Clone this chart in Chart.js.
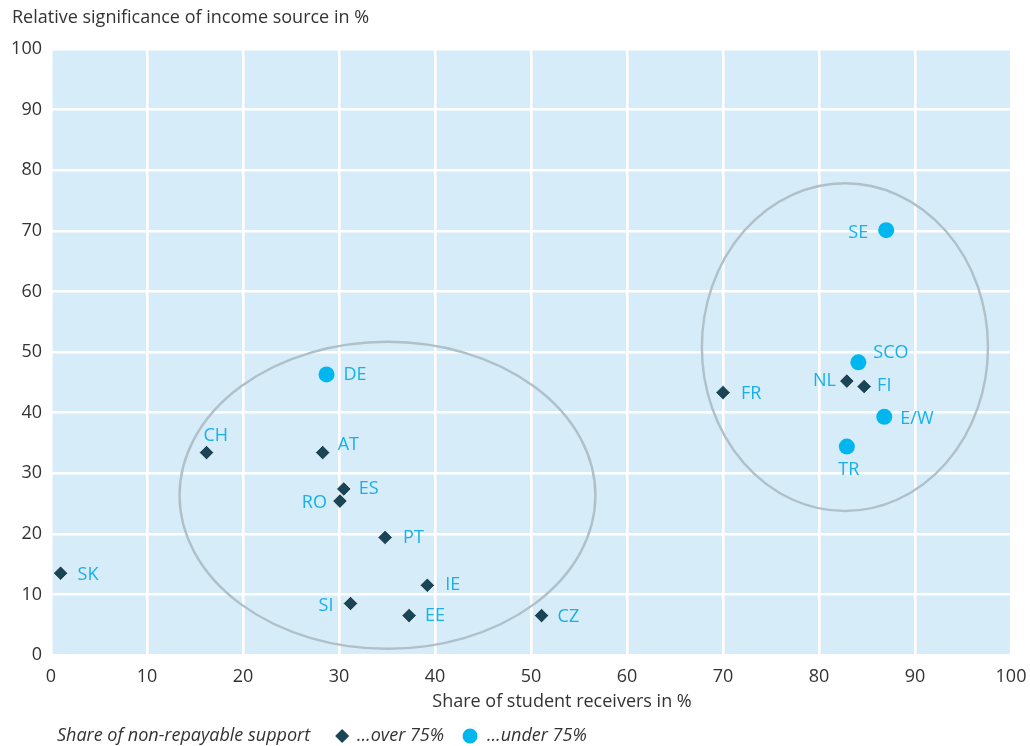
<!DOCTYPE html>
<html>
<head>
<meta charset="utf-8">
<script src="https://cdn.jsdelivr.net/npm/chart.js@4.4.1/dist/chart.umd.min.js"></script>
<style>
html,body{margin:0;padding:0;background:#ffffff;}
#wrap{width:1030px;height:746px;position:relative;}
canvas{display:block;}
</style>
</head>
<body>
<div id="wrap"><canvas id="c" width="1030" height="746" style="width:1030px;height:746px"></canvas></div>
<script>
// ---- data ----
const overCountries = ['SK','CH','AT','ES','RO','PT','IE','SI','EE','CZ','FR','NL','FI'];
const overX = [1.0, 16.2, 28.3, 30.5, 30.1, 34.8, 39.2, 31.2, 37.3, 51.1, 70.0, 82.9, 84.7];
const overY = [13.5, 33.4, 33.4, 27.4, 25.4, 19.4, 11.5, 8.5, 6.5, 6.5, 43.3, 45.2, 44.3];

const underCountries = ['DE','SE','SCO','E/W','TR'];
const underX = [28.7, 87.0, 84.1, 86.8, 82.9];
const underY = [46.3, 70.1, 48.3, 39.3, 34.4];

const xTickValues = [0,10,20,30,40,50,60,70,80,90,100];
const yTickValues = [0,10,20,30,40,50,60,70,80,90,100];

// cluster ellipses (data units)
const clusterCenterX = [35.05, 82.7];
const clusterCenterY = [26.35, 50.8];
const clusterRadiusX = [21.66, 14.9];
const clusterRadiusY = [25.33, 27.04];

const yAxisTitle = 'Relative significance of income source in %';
const xAxisTitle = 'Share of student receivers in %';
const legendTitle = 'Share of non-repayable support';
const seriesNames = ['\u2026over 75%', '\u2026under 75%'];

// ---- styles ----
const FONT = '"Open Sans", Roboto, "Liberation Sans", sans-serif';
const FS = 18;
const TEXT = '#333333';
const LABEL_COLOR = '#17b0e8';
const DIAMOND = '#1a4557';
const CIRCLE = '#00b6ee';
const PLOT_BG = '#d6ecf9';
const ELLIPSE = '#afc0c9';

// label placement relative to its marker: [dx, dy, textAlign]
const labelPlacement = {
  'SK':[17,2,'left'], 'CH':[-3,-17,'left'], 'AT':[15,-8,'left'], 'ES':[15,0,'left'],
  'RO':[-13,2,'right'], 'PT':[18,0,'left'], 'IE':[18,0,'left'], 'SI':[-17,2,'right'],
  'EE':[16,0,'left'], 'CZ':[16,1,'left'], 'FR':[18,1,'left'], 'NL':[-11,0,'right'],
  'FI':[13,-1,'left'], 'DE':[17,0,'left'], 'SE':[-18,3,'right'], 'SCO':[15,-9,'left'],
  'E/W':[16,2,'left'], 'TR':[2,23,'center']
};

const plotBackground = {
  id:'plotBackground',
  beforeDraw(chart){
    const {ctx, chartArea:a} = chart;
    ctx.save();
    ctx.fillStyle = PLOT_BG;
    ctx.fillRect(a.left, a.top, a.right - a.left, a.bottom - a.top);
    ctx.restore();
  }
};

const clusters = {
  id:'clusters',
  beforeDatasetsDraw(chart){
    const {ctx} = chart;
    const xs = chart.scales.x, ys = chart.scales.y;
    ctx.save();
    ctx.strokeStyle = ELLIPSE;
    ctx.lineWidth = 2.4;
    for (let i = 0; i < clusterCenterX.length; i++){
      const cx = xs.getPixelForValue(clusterCenterX[i]);
      const cy = ys.getPixelForValue(clusterCenterY[i]);
      const rx = Math.abs(xs.getPixelForValue(clusterCenterX[i] + clusterRadiusX[i]) - cx);
      const ry = Math.abs(ys.getPixelForValue(clusterCenterY[i] + clusterRadiusY[i]) - cy);
      ctx.beginPath();
      ctx.ellipse(cx, cy, rx, ry, 0, 0, Math.PI*2);
      ctx.stroke();
    }
    ctx.restore();
  }
};

const pointLabels = {
  id:'pointLabels',
  afterDatasetsDraw(chart){
    const {ctx} = chart;
    ctx.save();
    ctx.font = FS + 'px ' + FONT;
    ctx.fillStyle = LABEL_COLOR;
    ctx.textBaseline = 'middle';
    chart.data.datasets.forEach((ds, di) => {
      const meta = chart.getDatasetMeta(di);
      meta.data.forEach((el, i) => {
        const name = ds.names[i];
        const p = labelPlacement[name] || [14,0,'left'];
        ctx.textAlign = p[2];
        ctx.fillText(name, el.x + p[0], el.y + p[1]);
      });
    });
    ctx.restore();
  }
};

const annotations = {
  id:'annotations',
  afterDraw(chart){
    const {ctx, chartArea:a} = chart;
    ctx.save();
    ctx.fillStyle = TEXT;
    ctx.textBaseline = 'middle';
    // y axis title
    ctx.font = FS + 'px ' + FONT;
    ctx.textAlign = 'left';
    ctx.fillText(yAxisTitle, 12, 18);
    // x axis title
    ctx.textAlign = 'center';
    ctx.fillText(xAxisTitle, (a.left + a.right)/2 + 31, 702);
    // legend
    const ly = 736;
    ctx.font = 'italic ' + FS + 'px ' + FONT;
    ctx.textAlign = 'left';
    let x = 57;
    ctx.fillText(legendTitle, x, ly);
    x += ctx.measureText(legendTitle).width + 32;
    // diamond
    ctx.fillStyle = DIAMOND;
    ctx.beginPath();
    ctx.moveTo(x, ly - 7); ctx.lineTo(x + 7, ly); ctx.lineTo(x, ly + 7); ctx.lineTo(x - 7, ly);
    ctx.closePath(); ctx.fill();
    x += 15;
    ctx.fillStyle = TEXT;
    ctx.fillText(seriesNames[0], x, ly);
    x += ctx.measureText(seriesNames[0]).width + 26;
    ctx.fillStyle = CIRCLE;
    ctx.beginPath(); ctx.arc(x, ly, 7.5, 0, Math.PI*2); ctx.fill();
    x += 17;
    ctx.fillStyle = TEXT;
    ctx.fillText(seriesNames[1], x, ly);
    ctx.restore();
  }
};

const toPoints = (xs, ys) => xs.map((v, i) => ({x: v, y: ys[i]}));

new Chart(document.getElementById('c'), {
  type: 'scatter',
  data: {
    datasets: [
      {
        label: seriesNames[0],
        names: overCountries,
        data: toPoints(overX, overY),
        pointStyle: 'rectRot',
        pointRadius: 7.3,
        pointHoverRadius: 7.3,
        backgroundColor: DIAMOND,
        borderColor: '#ffffff',
        borderWidth: 0.8
      },
      {
        label: seriesNames[1],
        names: underCountries,
        data: toPoints(underX, underY),
        pointStyle: 'circle',
        pointRadius: 8,
        pointHoverRadius: 8,
        backgroundColor: CIRCLE,
        borderColor: CIRCLE,
        borderWidth: 0
      }
    ]
  },
  options: {
    responsive: false,
    maintainAspectRatio: false,
    animation: false,
    devicePixelRatio: 1,
    layout: { padding: { top: 49, right: 19, left: 0, bottom: 0 } },
    plugins: { legend: { display: false }, tooltip: { enabled: false }, title: { display: false } },
    scales: {
      x: {
        type: 'linear', min: 0, max: 100,
        afterFit(s){ s.height = 91; s.paddingRight = 0; s.paddingLeft = 0; },
        afterBuildTicks(s){ s.ticks = xTickValues.map(v => ({value: v})); },
        ticks: { font: { size: FS, family: FONT }, color: TEXT, padding: 11, maxRotation: 0, minRotation: 0, autoSkip: false },
        grid: { color: '#ffffff', lineWidth: 2.6, drawTicks: false },
        border: { display: false }
      },
      y: {
        type: 'linear', min: 0, max: 100,
        afterFit(s){ s.width = 51; s.paddingTop = 0; s.paddingBottom = 0; },
        afterBuildTicks(s){ s.ticks = yTickValues.map(v => ({value: v})); },
        ticks: { font: { size: FS, family: FONT }, color: TEXT, padding: 9, autoSkip: false },
        grid: { color: '#ffffff', lineWidth: 2.4, drawTicks: false },
        border: { display: false }
      }
    }
  },
  plugins: [plotBackground, clusters, pointLabels, annotations]
});
</script>
</body>
</html>
